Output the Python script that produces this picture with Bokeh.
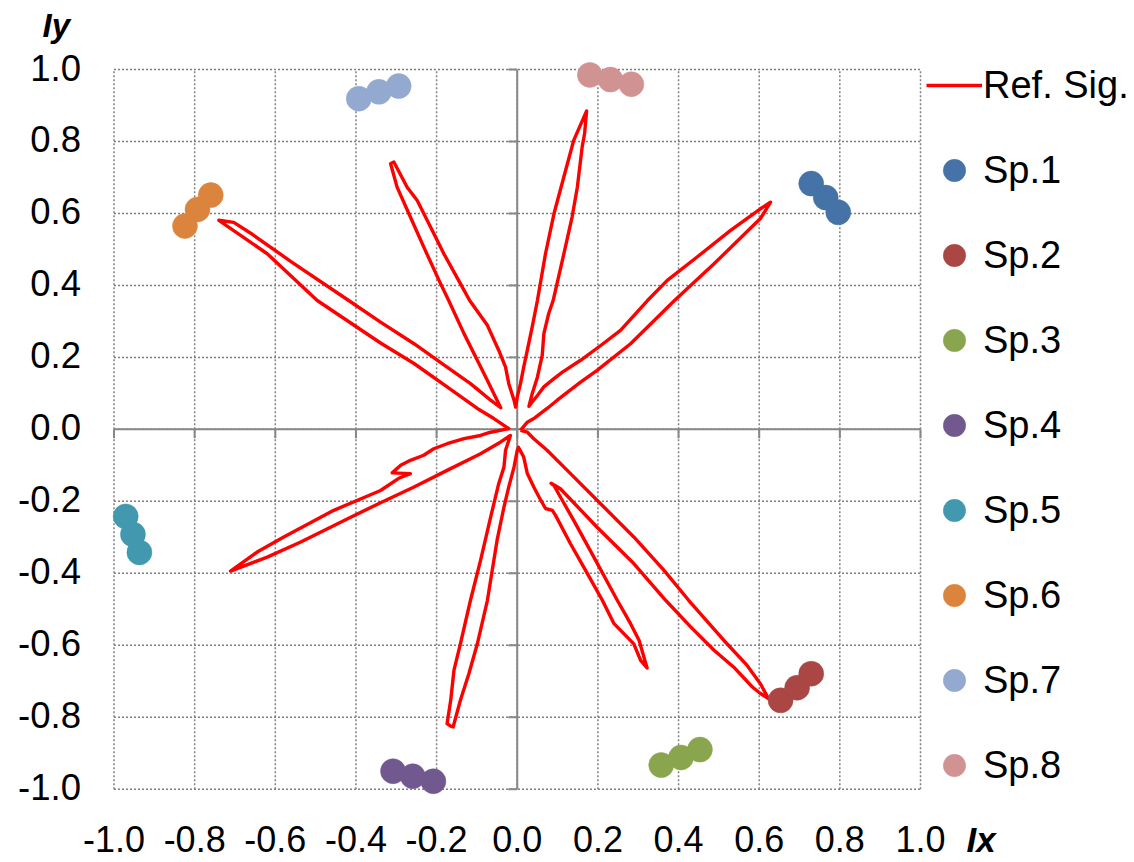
import math
from bokeh.plotting import figure
from bokeh.models import Range1d, Legend, LegendItem, Label
from bokeh.embed import file_html
from bokeh.resources import INLINE

# ---------------- data ----------------
ticks = [-1.0, -0.8, -0.6, -0.4, -0.2, 0.0, 0.2, 0.4, 0.6, 0.8, 1.0]
tick_labels = ["-1.0", "-0.8", "-0.6", "-0.4", "-0.2", "0.0", "0.2", "0.4", "0.6", "0.8", "1.0"]

series_names = ["Sp.1", "Sp.2", "Sp.3", "Sp.4", "Sp.5", "Sp.6", "Sp.7", "Sp.8"]
series_colors = ["#4572A7", "#AA4643", "#89A54E", "#71588F",
                 "#4198AF", "#DB843D", "#93A9CF", "#D19392"]

sp1_x = [0.729, 0.765, 0.796];    sp1_y = [0.683, 0.644, 0.603]
sp2_x = [0.653, 0.694, 0.729];    sp2_y = [-0.753, -0.718, -0.679]
sp3_x = [0.357, 0.406, 0.453];    sp3_y = [-0.933, -0.912, -0.890]
sp4_x = [-0.308, -0.259, -0.208]; sp4_y = [-0.950, -0.964, -0.978]
sp5_x = [-0.971, -0.953, -0.937]; sp5_y = [-0.242, -0.292, -0.342]
sp6_x = [-0.824, -0.793, -0.760]; sp6_y = [0.565, 0.611, 0.651]
sp7_x = [-0.393, -0.343, -0.294]; sp7_y = [0.919, 0.938, 0.954]
sp8_x = [0.180, 0.231, 0.283];    sp8_y = [0.985, 0.972, 0.959]

# reference signal (closed star-shaped curve), traced point by point
ref_x = [
    0.008, 0.025, 0.041, 0.074, 0.099, 0.157, 0.198, 0.281, 0.390, 0.488, 0.603, 0.628,
    0.603, 0.529, 0.446, 0.372, 0.323, 0.256, 0.207, 0.157, 0.112, 0.091, 0.066, 0.050, 0.037, 0.029,
    0.037, 0.050, 0.062, 0.066, 0.078, 0.089, 0.112, 0.136, 0.149, 0.161, 0.167, 0.172,
    0.140, 0.120, 0.091, 0.070, 0.050, 0.037, 0.025, 0.016, 0.008, 0.000, -0.004,
    -0.008, -0.021, -0.029, -0.046, -0.074, -0.118, -0.141, -0.182, -0.215, -0.248, -0.273, -0.306, -0.314,
    -0.298, -0.265, -0.232, -0.194, -0.170, -0.132, -0.099, -0.074, -0.054, -0.041,
    -0.066, -0.091, -0.116, -0.174, -0.256, -0.339, -0.418, -0.562, -0.661, -0.703, -0.740,
    -0.620, -0.496, -0.339, -0.256, -0.174, -0.099, -0.058, -0.021,
    -0.066, -0.091, -0.132, -0.174, -0.207, -0.232, -0.265, -0.289, -0.310, -0.265, -0.294, -0.339,
    -0.455, -0.579, -0.645, -0.711,
    -0.620, -0.537, -0.413, -0.339, -0.256, -0.174, -0.091, -0.041, -0.017,
    -0.018, -0.029, -0.033, -0.046, -0.066, -0.091, -0.116, -0.141, -0.157, -0.165, -0.174, -0.165,
    -0.159, -0.141, -0.120, -0.099, -0.074, -0.050, -0.033, -0.021, -0.008, 0.000, 0.003,
    0.016, 0.025, 0.041, 0.054, 0.070, 0.087, 0.095, 0.132, 0.174, 0.211, 0.240, 0.289, 0.306, 0.322,
    0.302, 0.281, 0.248, 0.190, 0.140, 0.107, 0.091, 0.084,
    0.107, 0.198, 0.289, 0.368, 0.430, 0.488, 0.537, 0.583, 0.603, 0.623,
    0.603, 0.570, 0.512, 0.425, 0.364, 0.289, 0.198, 0.124, 0.074, 0.041, 0.025, 0.008,
]
ref_y = [
    -0.003, 0.020, 0.030, 0.058, 0.081, 0.131, 0.164, 0.238, 0.358, 0.460, 0.586, 0.631,
    0.613, 0.553, 0.479, 0.414, 0.358, 0.275, 0.233, 0.192, 0.159, 0.141, 0.118, 0.094, 0.076, 0.064,
    0.099, 0.145, 0.206, 0.266, 0.322, 0.358, 0.470, 0.590, 0.673, 0.785, 0.822, 0.885,
    0.803, 0.720, 0.599, 0.488, 0.358, 0.284, 0.220, 0.173, 0.127, 0.090, 0.062,
    0.081, 0.127, 0.173, 0.220, 0.289, 0.358, 0.405, 0.488, 0.562, 0.636, 0.673, 0.743, 0.738,
    0.673, 0.590, 0.507, 0.414, 0.358, 0.266, 0.192, 0.136, 0.090, 0.060,
    0.081, 0.104, 0.127, 0.173, 0.238, 0.298, 0.358, 0.467, 0.545, 0.575, 0.581,
    0.488, 0.358, 0.240, 0.183, 0.118, 0.058, 0.030, 0.002,
    -0.008, -0.017, -0.026, -0.040, -0.054, -0.072, -0.086, -0.100, -0.121, -0.123, -0.136, -0.170,
    -0.225, -0.299, -0.341, -0.394,
    -0.355, -0.313, -0.244, -0.204, -0.160, -0.114, -0.068, -0.035, -0.017,
    -0.021, -0.058, -0.105, -0.151, -0.244, -0.364, -0.475, -0.596, -0.670, -0.753, -0.818, -0.825,
    -0.827, -0.753, -0.679, -0.596, -0.475, -0.308, -0.216, -0.160, -0.105, -0.058, -0.050,
    -0.077, -0.123, -0.160, -0.188, -0.220, -0.225, -0.239, -0.318, -0.401, -0.475, -0.540, -0.596, -0.642, -0.663,
    -0.586, -0.540, -0.475, -0.355, -0.253, -0.188, -0.156, -0.150,
    -0.165, -0.272, -0.373, -0.475, -0.549, -0.614, -0.661, -0.716, -0.734, -0.748,
    -0.707, -0.656, -0.586, -0.475, -0.392, -0.299, -0.197, -0.114, -0.058, -0.026, -0.008, -0.003,
]

FONT = "Liberation Sans"

# ---------------- layout (pixels) ----------------
W, H = 1132, 860
PX_X, PX_Y = 403.25, 359.85        # pixels per data unit
GRID_LEFT, GRID_TOP = 113.5, 69.0  # position of (-1, 1) in the canvas

x0 = ticks[0] - GRID_LEFT / PX_X
y1 = ticks[-1] + GRID_TOP / PX_Y
x_range = Range1d(x0, x0 + W / PX_X)
y_range = Range1d(y1 - H / PX_Y, y1)

p = figure(width=W, height=H, frame_width=W, frame_height=H,
           min_border=0, min_border_left=0, min_border_right=0,
           min_border_top=0, min_border_bottom=0,
           x_range=x_range, y_range=y_range, title=None,
           x_axis_location=None, y_axis_location=None,
           output_backend="svg", toolbar_location=None, tools="")
p.outline_line_color = None
p.background_fill_color = "white"
p.border_fill_color = "white"
p.xgrid.visible = False
p.ygrid.visible = False

lo, hi = ticks[0], ticks[-1]
n = len(ticks)

# dotted grid limited to the [-1, 1] square
grid_style = dict(line_color="#808080", line_width=1.5, line_dash="2 2")
p.segment(x0=ticks, y0=[lo] * n, x1=ticks, y1=[hi] * n, **grid_style)
p.segment(x0=[lo] * n, y0=ticks, x1=[hi] * n, y1=ticks, **grid_style)

# zero axes with outward ticks
axis_style = dict(line_color="#878787", line_width=2)
p.segment(x0=[lo, 0], y0=[0, lo], x1=[hi, 0], y1=[0, hi], **axis_style)
p.ray(x=ticks, y=[0] * n, length=9, length_units="screen", angle=-math.pi / 2, **axis_style)
p.ray(x=[0] * n, y=ticks, length=9, length_units="screen", angle=math.pi, **axis_style)

# tick labels
p.text(x=ticks, y=[lo] * n, text=tick_labels, text_font_size="36px",
       text_align="center", text_baseline="alphabetic", y_offset=50,
       text_color="black", text_font={"value": FONT})
p.text(x=[lo] * n, y=ticks, text=tick_labels, text_font_size="36.5px",
       text_align="right", text_baseline="alphabetic", x_offset=-33, y_offset=-2,
       text_color="black", text_font={"value": FONT})

# reference signal
ref_r = p.line(ref_x, ref_y, line_color="#FF0000", line_width=3.4, line_join="round")

# species points
sp_x = [sp1_x, sp2_x, sp3_x, sp4_x, sp5_x, sp6_x, sp7_x, sp8_x]
sp_y = [sp1_y, sp2_y, sp3_y, sp4_y, sp5_y, sp6_y, sp7_y, sp8_y]
sp_r = []
for xs, ys, c in zip(sp_x, sp_y, series_colors):
    sp_r.append(p.scatter(xs, ys, size=25, fill_color=c, line_color=c, line_width=0.5))

items = [LegendItem(label="Ref. Sig.", renderers=[ref_r])]
for name, r in zip(series_names, sp_r):
    items.append(LegendItem(label=name, renderers=[r]))

legend = Legend(items=items, location=(926, 66), orientation="vertical",
                glyph_width=56, glyph_height=58, label_height=58, spacing=27,
                label_standoff=1, padding=0, margin=0,
                border_line_color=None, background_fill_alpha=0,
                label_text_font=FONT, label_text_font_size="38px",
                label_text_color="black")
p.add_layout(legend, "center")

p.add_layout(Label(x=42, y=H - 24.5, x_units="screen", y_units="screen", text="Iy",
                   text_font=FONT, text_font_size="33px", text_font_style="bold italic",
                   text_baseline="alphabetic", text_color="black"))
p.add_layout(Label(x=966, y=H - 839, x_units="screen", y_units="screen", text="Ix",
                   text_font=FONT, text_font_size="35px", text_font_style="bold italic",
                   text_baseline="alphabetic", text_color="black"))

open("out.html", "w").write(file_html(p, INLINE))
